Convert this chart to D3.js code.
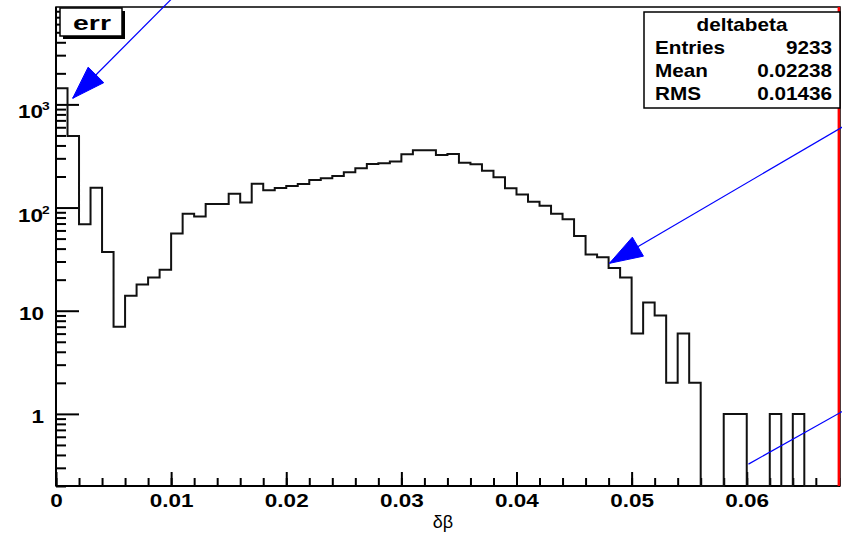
<!DOCTYPE html>
<html>
<head>
<meta charset="utf-8">
<script src="https://cdn.jsdelivr.net/npm/d3@7"></script>
<style>
  html, body { margin: 0; padding: 0; background: #fff; }
  svg { display: block; }
  text { font-family: "Liberation Sans", Arial, Helvetica, sans-serif; font-weight: bold; fill: #000; }
</style>
</head>
<body>
<svg id="chart" width="842" height="536"></svg>
<script>
// deltabeta histogram: 0.001-wide bins starting at 0
const binWidth = 0.001;
const counts = [
  1430, 495, 69, 156, 37, 7, 14, 18, 21, 25,
  56, 87, 82, 108, 108, 136, 112, 170, 147, 155,
  162, 169, 185, 192, 202, 220, 240, 264, 269, 279,
  328, 359, 359, 323, 331, 272, 263, 228, 197, 154,
  134, 114, 104, 87, 77, 53, 35, 33, 26, 21,
  6, 12, 9, 2, 6, 2, 0, 0, 1, 1,
  0, 0, 1, 0, 1, 0, 0, 0
];

const xMajorTicks = [0, 0.01, 0.02, 0.03, 0.04, 0.05, 0.06];
const xMajorLabels = ["0", "0.01", "0.02", "0.03", "0.04", "0.05", "0.06"];
const yMajorTicks = [1, 10, 100, 1000];
const yLabelBase = ["1", "10", "10", "10"];
const yLabelExp = ["", "", "2", "3"];

const statsTitle = "deltabeta";
const statsNames = ["Entries", "Mean", "RMS"];
const statsValues = ["9233", "0.02238", "0.01436"];

const cutX = 0.068;                 // red marker line
const arrowStarts = [[0.0107, 12500], [0.069, 670], [0.06015, 0.326]];
const arrowEnds   = [[0.00145, 1146], [0.04807, 28.8], [0.0705, 1.45]];
const arrowHeads  = [true, true, false];

const svg = d3.select("#chart");
const L = 56, R = 840, T = 7, B = 486;
const SX = 1.25; // wide bitmap-style lettering

const x = d3.scaleLinear().domain([0, 0.0681]).range([L, R]);
const y = d3.scaleLog().domain([0.2, 8790]).range([B, T]).clamp(true);

// frame
svg.append("rect").attr("x", L).attr("y", T).attr("width", R - L).attr("height", B - T)
  .attr("fill", "#fff").attr("stroke", "#000").attr("stroke-width", 1.5);

// x axis: minor ticks every 0.002, majors every 0.01
const xMinor = d3.range(0, 35).map(i => +(i * 0.002).toFixed(3)).filter(v => v <= 0.0681);
svg.append("g").attr("transform", `translate(0,${B})`)
  .call(d3.axisBottom(x).tickValues(xMinor).tickSize(-8).tickFormat(""))
  .call(g => g.select(".domain").remove())
  .call(g => g.selectAll("line").attr("stroke", "#000").attr("stroke-width", 2));
const gx = svg.append("g").attr("transform", `translate(0,${B})`)
  .call(d3.axisBottom(x).tickValues(xMajorTicks).tickSize(-14).tickPadding(0)
        .tickFormat((d, i) => xMajorLabels[i]))
  .call(g => g.select(".domain").remove())
  .call(g => g.selectAll("line").attr("stroke", "#000").attr("stroke-width", 2));
gx.selectAll("text").attr("y", 21).attr("dy", null)
  .attr("transform", `scale(${SX},1)`)
  .style("font-size", "18px").style("font-family", "Liberation Sans, Arial, sans-serif")
  .style("font-weight", "bold").attr("fill", "#000");

// y axis: log ticks 2..9 per decade
const yMinor = [];
[0.1, 1, 10, 100, 1000].forEach(d => {
  for (let k = 2; k <= 9; k++) {
    const v = d * k;
    if (v >= 0.2 && v <= 8790) yMinor.push(v);
  }
});
svg.append("g").attr("transform", `translate(${L},0)`)
  .call(d3.axisLeft(y).tickValues(yMinor).tickSize(-10).tickFormat(""))
  .call(g => g.select(".domain").remove())
  .call(g => g.selectAll("line").attr("stroke", "#000").attr("stroke-width", 2));
svg.append("g").attr("transform", `translate(${L},0)`)
  .call(d3.axisLeft(y).tickValues(yMajorTicks).tickSize(-23).tickFormat(""))
  .call(g => g.select(".domain").remove())
  .call(g => g.selectAll("line").attr("stroke", "#000").attr("stroke-width", 2));

// y labels, powers of ten with superscript exponent
yMajorTicks.forEach((v, i) => {
  const ty = y(v);
  const hasExp = yLabelExp[i] !== "";
  svg.append("text")
    .attr("transform", `translate(${hasExp ? 43 : 44},${ty + (hasExp ? 14 : 9)}) scale(${SX},1)`)
    .attr("text-anchor", "end").style("font-size", "18px")
    .text(yLabelBase[i]);
  if (hasExp) {
    svg.append("text")
      .attr("transform", `translate(42,${ty + 6}) scale(${SX},1)`)
      .attr("text-anchor", "start").style("font-size", "11px")
      .text(yLabelExp[i]);
  }
});

// axis lines
svg.append("line").attr("x1", L).attr("x2", L).attr("y1", T).attr("y2", B)
  .attr("stroke", "#000").attr("stroke-width", 2);
svg.append("line").attr("x1", L).attr("x2", R).attr("y1", B).attr("y2", B)
  .attr("stroke", "#000").attr("stroke-width", 2);

// histogram outline (empty bins fall to the axis minimum)
const steps = counts.map((c, i) => [i * binWidth, c > 0 ? c : 0.2]);
steps.push([counts.length * binWidth, 0.2]);
const histLine = d3.line()
  .x(d => x(d[0]))
  .y(d => y(d[1]))
  .curve(d3.curveStepAfter);
svg.append("path").datum(steps)
  .attr("d", histLine)
  .attr("fill", "none").attr("stroke", "#111").attr("stroke-width", 2)
  .attr("stroke-linejoin", "miter");

// red marker
svg.append("line")
  .attr("x1", x(cutX)).attr("x2", x(cutX))
  .attr("y1", y(8790)).attr("y2", y(0.2))
  .attr("stroke", "#ff0000").attr("stroke-width", 2.5);

// blue arrows
arrowStarts.forEach((s, i) => {
  const x0 = x(s[0]), y0 = y.copy().clamp(false)(s[1]);
  const yUn = y.copy().clamp(false);
  const x1 = x(arrowEnds[i][0]), y1 = yUn(arrowEnds[i][1]);
  svg.append("line").attr("x1", x0).attr("y1", yUn(s[1])).attr("x2", x1).attr("y2", y1)
    .attr("stroke", "#0000ff").attr("stroke-width", 1.2);
  if (arrowHeads[i]) {
    const dx = x1 - x0, dy = y1 - yUn(s[1]);
    const len = Math.hypot(dx, dy), ux = dx / len, uy = dy / len;
    const hl = 33, hw = 11;
    const bx = x1 - ux * hl, by = y1 - uy * hl;
    const pts = [[x1, y1], [bx - uy * hw, by + ux * hw], [bx + uy * hw, by - ux * hw]];
    svg.append("polygon").attr("points", pts.map(p => p.join(",")).join(" "))
      .attr("fill", "#0000ff").attr("stroke", "#0000ff").attr("stroke-width", 1);
  }
});

// statistics box
const sb = { x: 644, y: 12, w: 196, h: 96 };
svg.append("rect").attr("x", sb.x).attr("y", sb.y).attr("width", sb.w).attr("height", sb.h)
  .attr("fill", "#fff").attr("stroke", "#000").attr("stroke-width", 1.5);
svg.append("text")
  .attr("transform", `translate(${sb.x + sb.w / 2},31) scale(1.15,1)`)
  .attr("text-anchor", "middle").style("font-size", "18px").text(statsTitle);
statsNames.forEach((n, i) => {
  const by = 54 + i * 23;
  svg.append("text").attr("transform", `translate(655,${by}) scale(1.15,1)`)
    .attr("text-anchor", "start").style("font-size", "18px").text(n);
  svg.append("text").attr("transform", `translate(832,${by}) scale(1.15,1)`)
    .attr("text-anchor", "end").style("font-size", "18px").text(statsValues[i]);
});

// title box with shadow
svg.append("rect").attr("x", 63).attr("y", 11).attr("width", 62).attr("height", 28).attr("fill", "#000");
svg.append("rect").attr("x", 60).attr("y", 8).attr("width", 62).attr("height", 28)
  .attr("fill", "#fff").attr("stroke", "#000").attr("stroke-width", 1.5);
svg.append("text").attr("transform", `translate(92,30) scale(1.35,1)`)
  .attr("text-anchor", "middle").style("font-size", "21px").text("err");

// x axis title
svg.append("text").attr("x", 443).attr("y", 528).attr("text-anchor", "middle")
  .style("font-size", "18px").style("font-weight", "normal").text("δβ");
</script>
</body>
</html>
